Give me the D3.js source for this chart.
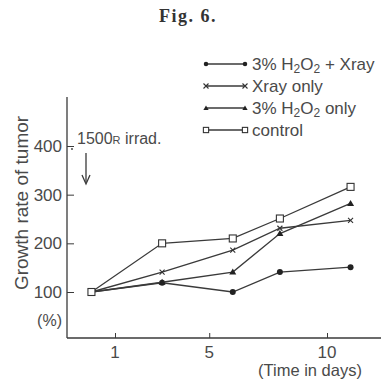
<!DOCTYPE html>
<html><head><meta charset="utf-8">
<script src="https://cdn.jsdelivr.net/npm/d3@7"></script>
<style>
body{margin:0;background:#fff;}
svg{display:block;}
.t{font-family:"Liberation Sans Narrow","Liberation Sans",sans-serif;fill:#4a4a4a;}
</style></head>
<body>
<svg id="c" width="381" height="385"></svg>
<script>
const days = [0, 3, 6, 8, 11];
const combo = [100, 119, 100, 141, 151];
const xrayOnly = [100, 141, 186, 231, 247];
const h2o2Only = [100, 120, 141, 220, 282];
const control = [100, 200, 210, 251, 316];
const yTicks = [100, 200, 300, 400];
const xTicks = [1, 5, 10];

const svg = d3.select("#c");
const x = d3.scaleLinear().domain([1, 10]).range([115, 327]);
const y = d3.scaleLinear().domain([100, 400]).range([292, 146]);
const ink = "#3a3a3a";

// title
svg.append("text").attr("x", 188).attr("y", 22).attr("text-anchor", "middle")
  .attr("font-family", "Liberation Serif, serif").attr("font-weight", "bold")
  .attr("font-size", 18).attr("letter-spacing", 1.5).attr("fill", "#333").text("Fig. 6.");

// axes lines
const x0 = 67, yBase = 338;
svg.append("line").attr("x1", x0).attr("x2", x0).attr("y1", 97).attr("y2", yBase).attr("stroke", ink).attr("stroke-width", 1.3);
svg.append("line").attr("x1", x0).attr("x2", 381).attr("y1", yBase).attr("y2", yBase).attr("stroke", ink).attr("stroke-width", 1.3);

// y axis via d3 axis (inward ticks)
const ya = svg.append("g").attr("transform", `translate(${x0},0)`)
  .call(d3.axisRight(y).tickValues(yTicks).tickSize(7).tickFormat(""));
ya.select(".domain").remove();
ya.selectAll("line").attr("stroke", ink);
yTicks.forEach(v => {
  svg.append("text").attr("class", "t").attr("x", 62).attr("y", y(v) + 6)
    .attr("text-anchor", "end").attr("font-size", 17).text(v);
});
svg.append("text").attr("class", "t").attr("x", 62).attr("y", 326).attr("text-anchor", "end")
  .attr("font-size", 16).text("(%)");

// x axis
const xa = svg.append("g").attr("transform", `translate(0,${yBase})`)
  .call(d3.axisTop(x).tickValues(xTicks).tickSize(5).tickFormat(""));
xa.select(".domain").remove();
xa.selectAll("line").attr("stroke", ink);
xTicks.forEach(v => {
  svg.append("text").attr("class", "t").attr("x", x(v)).attr("y", 358)
    .attr("text-anchor", "middle").attr("font-size", 17).text(v);
});
svg.append("text").attr("class", "t").attr("x", 310).attr("y", 376).attr("text-anchor", "middle")
  .attr("font-size", 16.5).text("(Time in days)");

// y label
svg.append("text").attr("class", "t").attr("transform", "translate(28,203) rotate(-90)")
  .attr("text-anchor", "middle").attr("font-size", 19).text("Growth rate of tumor");

// annotation
const ann = svg.append("text").attr("class", "t").attr("x", 77).attr("y", 144).attr("font-size", 16);
ann.append("tspan").text("1500");
ann.append("tspan").attr("font-size", 11).text("R");
ann.append("tspan").text(" irrad.");
svg.append("circle").attr("cx", 72).attr("cy", 149).attr("r", 0.9).attr("fill", ink);
svg.append("line").attr("x1", 86).attr("x2", 86).attr("y1", 153).attr("y2", 182).attr("stroke", ink).attr("stroke-width", 1.3);
svg.append("path").attr("d", "M82,175 L86,184 L90,175").attr("fill", "none").attr("stroke", ink).attr("stroke-width", 1.3);

// series
const series = [
  {name: "combo", vals: combo, m: "dot"},
  {name: "xray", vals: xrayOnly, m: "x"},
  {name: "h2o2", vals: h2o2Only, m: "tri"},
  {name: "control", vals: control, m: "sq"}
];
const line = d3.line().x(d => x(d[0])).y(d => y(d[1]));
function marker(g, m, cx, cy, s = 1) {
  if (m === "dot") g.append("circle").attr("cx", cx).attr("cy", cy).attr("r", 3 * s).attr("fill", "#222");
  else if (m === "x") g.append("path").attr("d", `M${cx-2.5},${cy-2.5}L${cx+2.5},${cy+2.5}M${cx-2.5},${cy+2.5}L${cx+2.5},${cy-2.5}`)
      .attr("stroke", "#333").attr("stroke-width", 1.1);
  else if (m === "tri") g.append("path").attr("d", `M${cx},${cy-3.5*s}L${cx+3.5*s},${cy+2.5*s}L${cx-3.5*s},${cy+2.5*s}Z`).attr("fill", "#222");
  else g.append("rect").attr("x", cx-3.5*s).attr("y", cy-3.5*s).attr("width", 7*s).attr("height", 7*s)
      .attr("fill", "#fff").attr("stroke", "#333").attr("stroke-width", 1.1);
}
series.forEach(s => {
  const pts = days.map((d, i) => [d, s.vals[i]]);
  svg.append("path").datum(pts).attr("d", line).attr("fill", "none").attr("stroke", ink).attr("stroke-width", 1.3);
  const g = svg.append("g");
  pts.forEach(p => marker(g, s.m, x(p[0]), y(p[1])));
});

// legend
const legendRows = [
  {m: "dot", parts: [["3% H"], ["2", 1], ["O"], ["2", 1], [" + Xray"]]},
  {m: "x", parts: [["Xray only"]]},
  {m: "tri", parts: [["3% H"], ["2", 1], ["O"], ["2", 1], [" only"]]},
  {m: "sq", parts: [["control"]]}
];
legendRows.forEach((r, i) => {
  const ly = 64 + i * 22;
  svg.append("line").attr("x1", 206).attr("x2", 245).attr("y1", ly).attr("y2", ly).attr("stroke", ink).attr("stroke-width", 1.3);
  const g = svg.append("g");
  marker(g, r.m, 206, ly, 0.75);
  marker(g, r.m, 245, ly, 0.75);
  const t = svg.append("text").attr("class", "t").attr("x", 252).attr("y", ly + 5.5).attr("font-size", 17);
  r.parts.forEach(p => {
    if (p[1]) t.append("tspan").attr("font-size", 12).attr("dy", 3).text(p[0]);
    else { const ts = t.append("tspan").text(p[0]); if (t.selectAll("tspan").size() > 1) ts.attr("dy", -3); }
  });
});
</script>
</body></html>
